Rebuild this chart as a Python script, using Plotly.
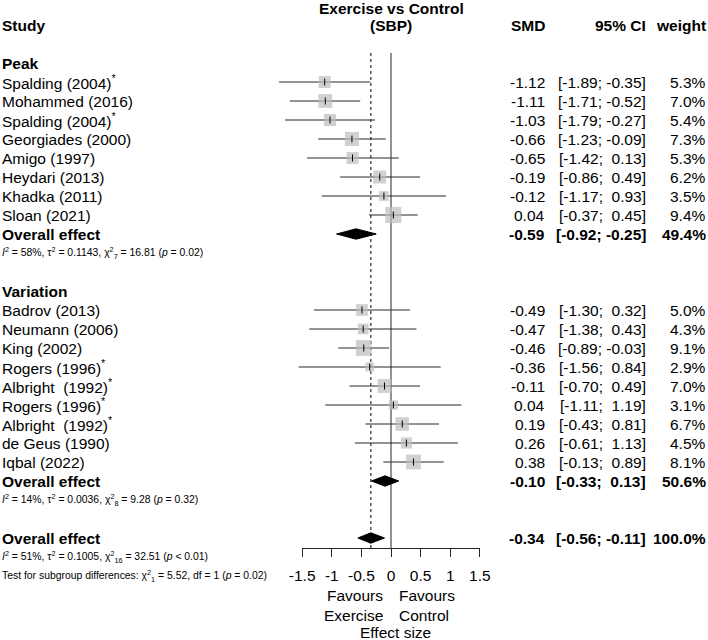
import plotly.graph_objects as go

# ---------------- data ----------------
peak_studies = ["Spalding (2004)<sup>*</sup>", "Mohammed (2016)", "Spalding (2004)<sup>*</sup>",
                "Georgiades (2000)", "Amigo (1997)", "Heydari (2013)", "Khadka (2011)", "Sloan (2021)"]
peak_smd = [-1.12, -1.11, -1.03, -0.66, -0.65, -0.19, -0.12, 0.04]
peak_lo = [-1.89, -1.71, -1.79, -1.23, -1.42, -0.86, -1.17, -0.37]
peak_hi = [-0.35, -0.52, -0.27, -0.09, 0.13, 0.49, 0.93, 0.45]
peak_w = [5.3, 7.0, 5.4, 7.3, 5.3, 6.2, 3.5, 9.4]
peak_overall = [-0.59, -0.92, -0.25, 49.4]
peak_het = "<i>I</i><sup>2</sup> = 58%, τ<sup>2</sup> = 0.1143, χ<sup>2</sup><sub>7</sub> = 16.81 (<i>p</i> = 0.02)"

var_studies = ["Badrov (2013)", "Neumann (2006)", "King (2002)", "Rogers (1996)<sup>*</sup>",
               "Albright  (1992)<sup>*</sup>", "Rogers (1996)<sup>*</sup>", "Albright  (1992)<sup>*</sup>",
               "de Geus (1990)", "Iqbal (2022)"]
var_smd = [-0.49, -0.47, -0.46, -0.36, -0.11, 0.04, 0.19, 0.26, 0.38]
var_lo = [-1.30, -1.38, -0.89, -1.56, -0.70, -1.11, -0.43, -0.61, -0.13]
var_hi = [0.32, 0.43, -0.03, 0.84, 0.49, 1.19, 0.81, 1.13, 0.89]
var_w = [5.0, 4.3, 9.1, 2.9, 7.0, 3.1, 6.7, 4.5, 8.1]
var_overall = [-0.10, -0.33, 0.13, 50.6]
var_het = "<i>I</i><sup>2</sup> = 14%, τ<sup>2</sup> = 0.0036, χ<sup>2</sup><sub>8</sub> = 9.28 (<i>p</i> = 0.32)"

total_overall = [-0.34, -0.56, -0.11, 100.0]
total_het = "<i>I</i><sup>2</sup> = 51%, τ<sup>2</sup> = 0.1005, χ<sup>2</sup><sub>16</sub> = 32.51 (<i>p</i> &lt; 0.01)"
subgroup_test = "Test for subgroup differences: χ<sup>2</sup><sub>1</sub> = 5.52, df = 1 (<i>p</i> = 0.02)"

tick_vals = [-1.5, -1, -0.5, 0, 0.5, 1, 1.5]
tick_text = ["-1.5", "-1", "-0.5", "0", "0.5", "1", "1.5"]

# ---------------- layout constants ----------------
W, H = 708, 640
ROW_PX = 19.0
ROW0_PX = 25.0
ZERO_PX = 391.0
PX_PER_UNIT = 59.2
FONT = "Liberation Sans, Arial, sans-serif"
FS = 15.5
FS_SMALL = 10.4
GREY_BOX = "#BEBEBE"
LINE_C = "#262626"


def px2row(p):
    return (p - ROW0_PX) / ROW_PX


def xp(p):
    return p / W


def fmt_ci(lo, hi):
    def f(v):
        s = f"{v:.2f}"
        return s if v < 0 else "\u00a0" + s
    return f"[{f(lo)}; {f(hi)}]"


fig = go.Figure()
ann = []


def add_text(x_px, row, text, anchor="left", bold=False, size=FS):
    ann.append(dict(x=xp(x_px), xref="paper", y=row, yref="y", text=(f"<b>{text}</b>" if bold else text),
                    showarrow=False, xanchor=anchor, yanchor="middle", borderpad=0,
                    font=dict(family=FONT, size=size, color="black")))


# header
ann.append(dict(x=0, xref="x", y=px2row(8), yref="y", text="<b>Exercise vs Control</b>", showarrow=False,
                xanchor="center", yanchor="middle", font=dict(family=FONT, size=FS, color="black")))
ann.append(dict(x=0, xref="x", y=0, yref="y", text="<b>(SBP)</b>", showarrow=False,
                xanchor="center", yanchor="middle", font=dict(family=FONT, size=FS, color="black")))
add_text(1, 0, "Study", bold=True)
add_text(546, 0, "SMD", anchor="right", bold=True)
add_text(647, 0, "95% CI", anchor="right", bold=True)
add_text(707, 0, "weight", anchor="right", bold=True)


def add_overall(orow, overall, het):
    m, l, h, wt = overall
    add_text(1, orow, "Overall effect", bold=True)
    add_text(546, orow, f"{m:.2f}", anchor="right", bold=True)
    add_text(647, orow, fmt_ci(l, h), anchor="right", bold=True)
    add_text(707, orow, f"{wt:.1f}%", anchor="right", bold=True)
    dh = 5.2 / ROW_PX
    fig.add_trace(go.Scatter(x=[l, m, h, m, l], y=[orow, orow - dh, orow, orow + dh, orow],
                             mode="lines", fill="toself", fillcolor="black",
                             line=dict(color="black", width=1), hoverinfo="skip", showlegend=False))
    add_text(1, orow + 1, het, size=FS_SMALL)


def add_group(title, studies, smd, lo, hi, w, overall, het, start_row):
    add_text(1, start_row, title, bold=True)
    rows = [start_row + 1 + i for i in range(len(studies))]
    for r, name, m, l, h, wt in zip(rows, studies, smd, lo, hi, w):
        add_text(1, r, name)
        add_text(546, r, f"{m:.2f}", anchor="right")
        add_text(647, r, fmt_ci(l, h), anchor="right")
        add_text(707, r, f"{wt:.1f}%", anchor="right")
    xs, ys = [], []
    for r, l, h in zip(rows, lo, hi):
        xs += [l, h, None]
        ys += [r, r, None]
    fig.add_trace(go.Scatter(x=xs, y=ys, mode="lines", line=dict(color=LINE_C, width=1),
                             hoverinfo="skip", showlegend=False))
    k = 16 / (9.4 ** 0.5)
    fig.add_trace(go.Scatter(x=smd, y=rows, mode="markers",
                             marker=dict(symbol="square", color=GREY_BOX, size=[k * wt ** 0.5 for wt in w],
                                         line=dict(width=0)),
                             hoverinfo="skip", showlegend=False))
    fig.add_trace(go.Scatter(x=smd, y=rows, mode="markers",
                             marker=dict(symbol="line-ns", size=5, line=dict(color="black", width=1)),
                             hoverinfo="skip", showlegend=False))
    orow = rows[-1] + 1
    add_overall(orow, overall, het)
    return orow


axis_row = px2row(548)
top_row = px2row(53)

# reference lines (drawn first)
fig.add_trace(go.Scatter(x=[0, 0], y=[top_row, axis_row], mode="lines",
                         line=dict(color=LINE_C, width=1), hoverinfo="skip", showlegend=False))
fig.add_trace(go.Scatter(x=[total_overall[0], total_overall[0]], y=[top_row, axis_row], mode="lines",
                         line=dict(color="black", width=1, dash="dot"), hoverinfo="skip", showlegend=False))

r1 = add_group("Peak", peak_studies, peak_smd, peak_lo, peak_hi, peak_w, peak_overall, peak_het, 2)
r2 = add_group("Variation", var_studies, var_smd, var_lo, var_hi, var_w, var_overall, var_het, r1 + 3)
add_overall(r2 + 3, total_overall, total_het)
add_text(1, r2 + 5, subgroup_test, size=FS_SMALL)

# invisible trace on the effect-size axis so it is drawn
fig.add_trace(go.Scatter(x=tick_vals, y=[0] * len(tick_vals), xaxis="x2", yaxis="y2", mode="markers",
                         marker=dict(opacity=0), hoverinfo="skip", showlegend=False))

# axis labels
for xv, txt, py in [(-0.61, "Favours", 595), (-0.64, "Exercise", 615),
                    (0.61, "Favours", 595), (0.56, "Control", 615), (0.07, "Effect size", 632)]:
    ann.append(dict(x=xv, xref="x", y=px2row(py), yref="y", text=txt, showarrow=False,
                    xanchor="center", yanchor="middle", borderpad=0,
                    font=dict(family=FONT, size=FS, color="black")))

x_lo = -ZERO_PX / PX_PER_UNIT
x_hi = (W - ZERO_PX) / PX_PER_UNIT
d0 = (ZERO_PX + tick_vals[0] * PX_PER_UNIT) / W
d1 = (ZERO_PX + tick_vals[-1] * PX_PER_UNIT) / W
axis_pos = 1 - 548 / H

fig.update_layout(
    width=W, height=H, margin=dict(l=0, r=0, t=0, b=0, autoexpand=False),
    plot_bgcolor="rgba(0,0,0,0)", paper_bgcolor="white",
    font=dict(family=FONT, size=FS, color="black"),
    xaxis=dict(range=[x_lo, x_hi], domain=[0, 1], visible=False, fixedrange=True),
    yaxis=dict(range=[px2row(H), px2row(0)], domain=[0, 1], visible=False, fixedrange=True),
    xaxis2=dict(range=[tick_vals[0], tick_vals[-1]], domain=[d0, d1], anchor="y2",
                side="bottom", showline=True, linecolor=LINE_C, linewidth=1,
                ticks="outside", ticklen=8, tickwidth=1, tickcolor=LINE_C, tickvals=tick_vals,
                ticktext=tick_text, tickfont=dict(family=FONT, size=FS, color="black"),
                showgrid=False, zeroline=False, ticklabelstandoff=5, fixedrange=True,
                automargin=False),
    yaxis2=dict(domain=[axis_pos, axis_pos + 0.01], anchor="x2", visible=False, fixedrange=True),
    annotations=ann,
    showlegend=False,
)

fig.write_html("out.html", config={"displayModeBar": False},
               post_script="document.body.style.margin='0';document.body.style.overflow='hidden';")
